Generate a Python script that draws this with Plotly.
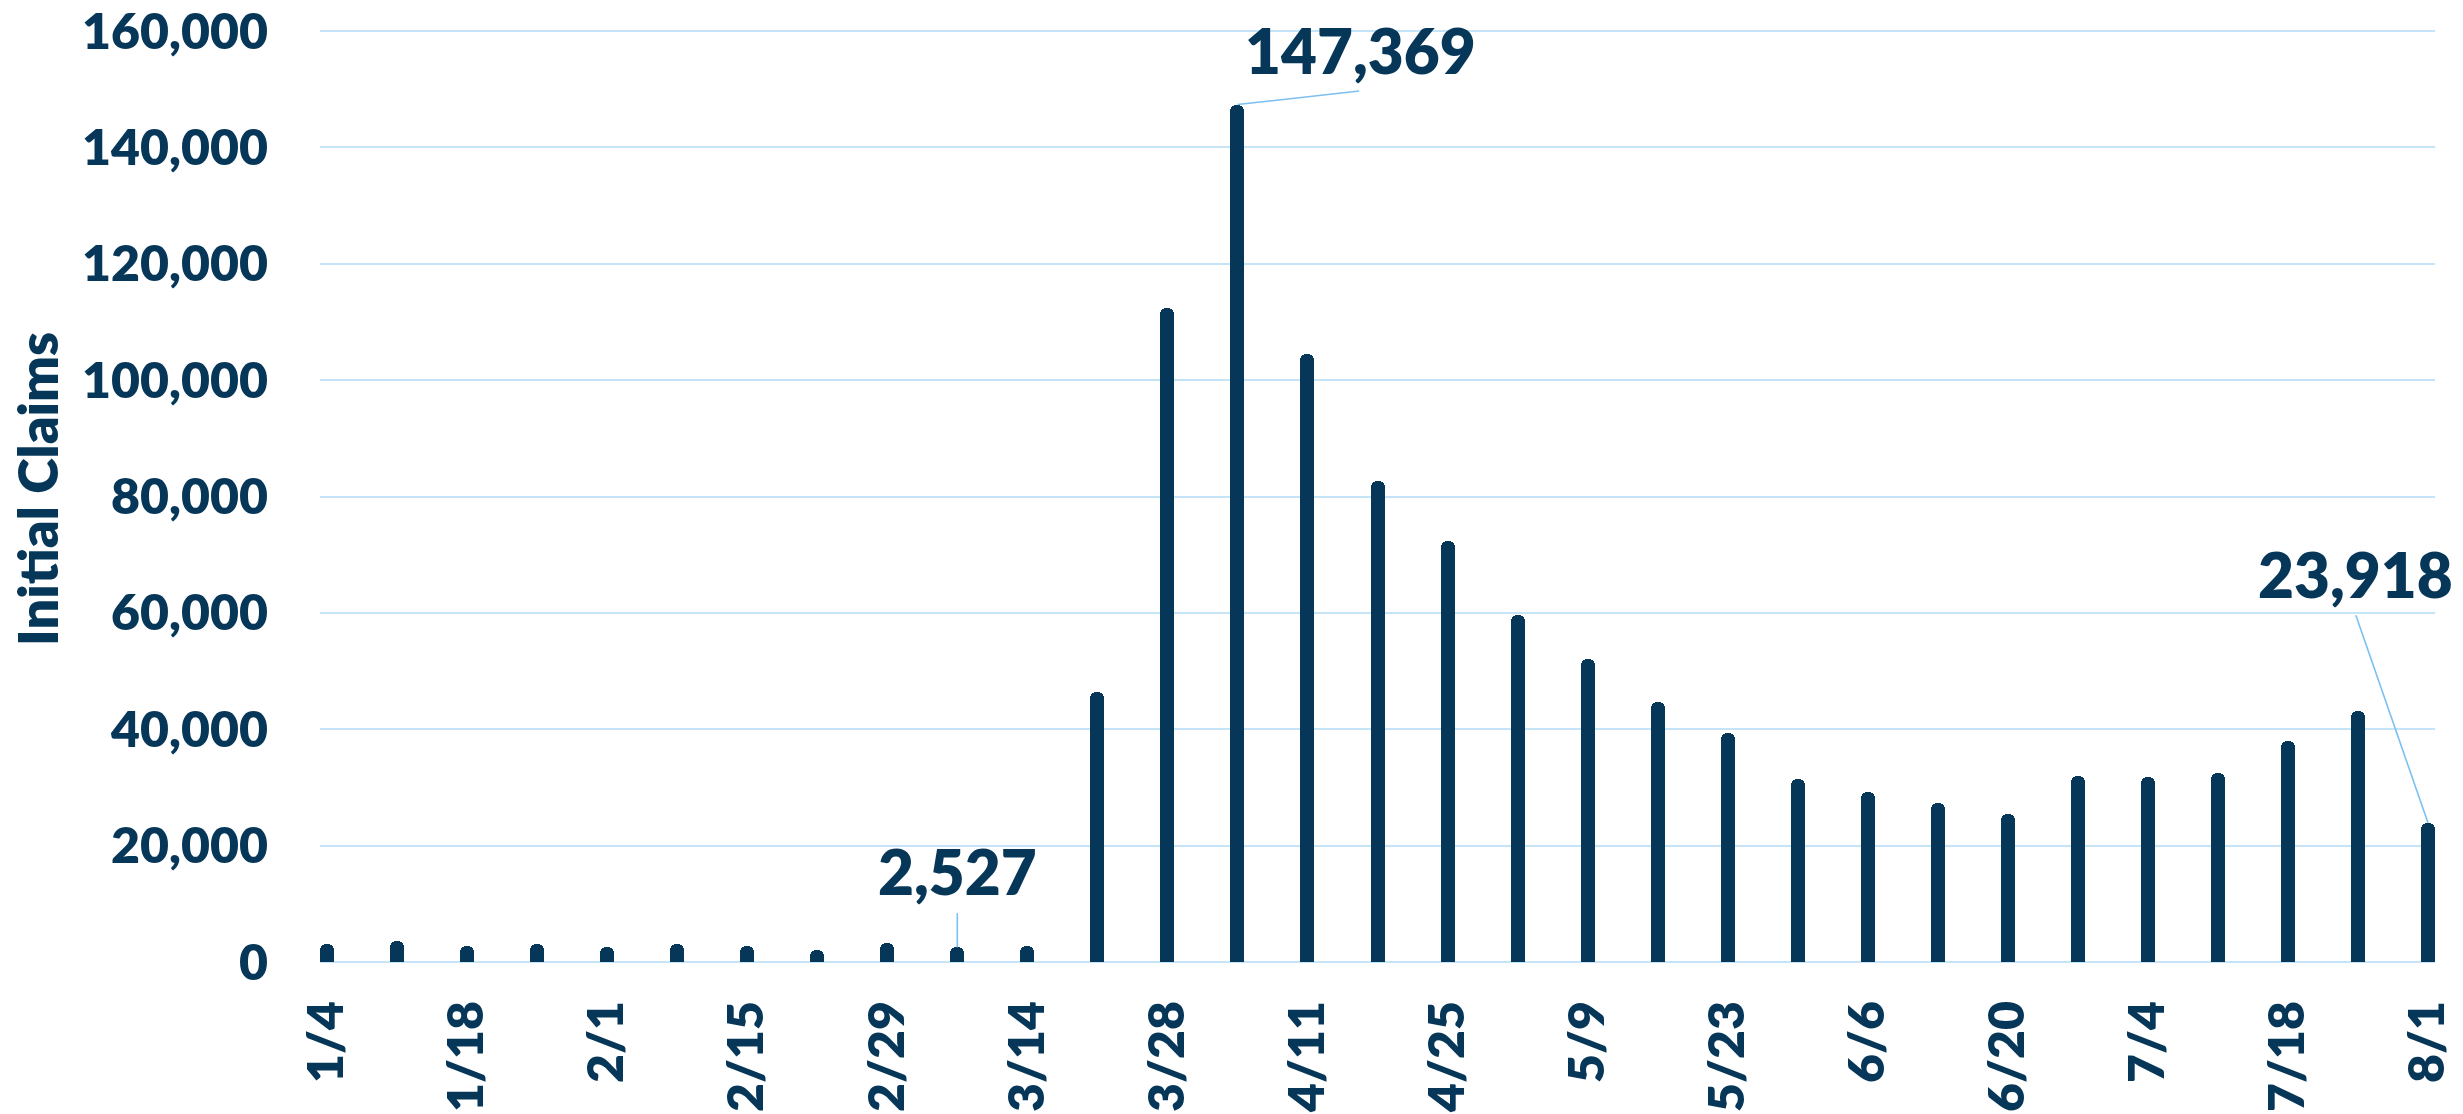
import plotly.graph_objects as go

# ---- data ----
weeks = ["1/4", "1/11", "1/18", "1/25", "2/1", "2/8", "2/15", "2/22", "2/29", "3/7",
         "3/14", "3/21", "3/28", "4/4", "4/11", "4/18", "4/25", "5/2", "5/9", "5/16",
         "5/23", "5/30", "6/6", "6/13", "6/20", "6/27", "7/4", "7/11", "7/18", "7/25", "8/1"]
claims = [3100, 3600, 2800, 3100, 2550, 3100, 2700, 2100, 3300, 2527,
          2700, 46400, 112400, 147369, 104500, 82700, 72400, 59600, 52100, 44700,
          39300, 31400, 29200, 27300, 25400, 32000, 31800, 32400, 38000, 43100, 23918]
y_ticks = [0, 20000, 40000, 60000, 80000, 100000, 120000, 140000, 160000]
y_title = "Initial Claims"

# callouts: (bar index, label x offset (in bars), label y, leader end x offset, leader end y)
callouts = [
    (13, 1.76, 156700, 1.74, 149700),
    (9, 0.0, 15600, 0.0, 8400),
    (30, -1.03, 66700, -1.03, 59600),
]

NAVY = "#063759"
GRID = "#C6E4F8"
LEADER = "#7CC0F0"
FONT = "Lato"
WEIGHT = 800

idx = list(range(len(weeks)))

fig = go.Figure()
fig.add_trace(go.Bar(
    x=idx, y=claims, width=0.2,
    marker=dict(color=NAVY, line=dict(width=0), cornerradius=6),
    hoverinfo="x+y",
))

annotations = []
shapes = []
for i, dx, ty, lx, ly in callouts:
    shapes.append(dict(type="line", xref="x", yref="y",
                       x0=idx[i], y0=claims[i], x1=idx[i] + lx, y1=ly,
                       line=dict(color=LEADER, width=1.6), layer="above"))
    annotations.append(dict(xref="x", yref="y", x=idx[i] + dx, y=ty,
                            text=f"{claims[i]:,}", showarrow=False,
                            xanchor="center", yanchor="middle",
                            font=dict(family=FONT, size=62, color=NAVY, weight=WEIGHT)))

annotations.append(dict(xref="paper", yref="paper", x=-0.1333, y=0.506,
                        text=y_title, textangle=-90, showarrow=False,
                        xanchor="center", yanchor="middle",
                        font=dict(family=FONT, size=54, color=NAVY, weight=WEIGHT)))

fig.update_layout(
    width=2463, height=1114,
    margin=dict(l=320, r=28, t=27, b=152, autoexpand=False),
    paper_bgcolor="white", plot_bgcolor="white",
    showlegend=False,
    annotations=annotations,
    shapes=shapes,
    bargap=0,
)
fig.update_xaxes(
    range=[-0.1, len(weeks) - 0.9],
    tickmode="array", tickvals=idx[::2], ticktext=weeks[::2],
    tickangle=-90, ticks="", showgrid=False, zeroline=False, showline=False,
    ticklabelstandoff=28, ticklabeloverflow="allow", automargin=False,
    tickfont=dict(family=FONT, size=50, color=NAVY, weight=WEIGHT),
)
fig.update_yaxes(
    range=[0, 160700], tickmode="array", tickvals=y_ticks, tickformat=",",
    showgrid=True, gridcolor=GRID, gridwidth=2,
    zeroline=True, zerolinecolor=GRID, zerolinewidth=2,
    showline=False, ticks="", ticklabelstandoff=51, ticklabeloverflow="allow",
    automargin=False,
    tickfont=dict(family=FONT, size=50, color=NAVY, weight=WEIGHT),
)

fig.write_html("out.html")
